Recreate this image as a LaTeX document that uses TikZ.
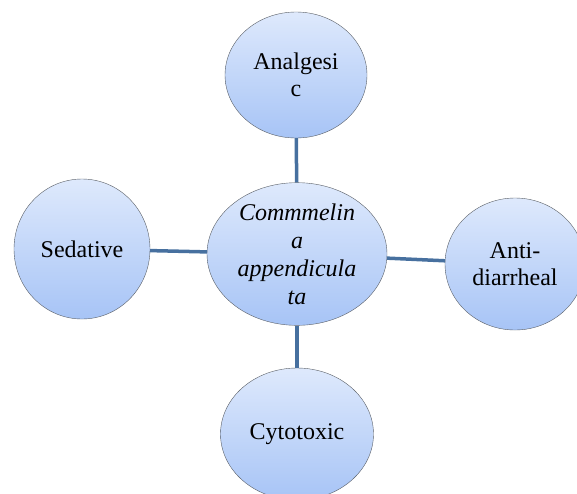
\documentclass[tikz,border=0pt]{standalone}
\usepackage{fontspec}
\setmainfont{Liberation Serif}
\usetikzlibrary{shapes.geometric}

\definecolor{bubtop}{HTML}{DEE9FC}
\definecolor{bubbot}{HTML}{A7C4F6}
\definecolor{bubline}{HTML}{5A5F66}
\definecolor{spoke}{HTML}{47709F}

\begin{document}
\begin{tikzpicture}[x=1pt, y=-1pt,
        bubble/.style={ellipse, draw=bubline, thin, top color=bubtop, bottom color=bubbot, inner sep=0pt, align=center, font=\fontsize{24}{27}\selectfont},
        link/.style={draw=spoke, line width=3.5pt}
    ]
        \useasboundingbox (0,0) rectangle (577,493);

        \node[bubble, minimum width=142pt, minimum height=126pt] (analgesic) at (296,75) {Analgesi\\c};
        \node[bubble, minimum width=180pt, minimum height=135pt, font=\fontsize{24}{28}\selectfont\itshape] (plant) at (297,254) {Commmelin\\a\\appendicula\\ta};
        \node[bubble, minimum width=136pt, minimum height=140pt] (sedative) at (82,249) {Sedative};
        \node[bubble, minimum width=140pt, minimum height=132pt] (antidiar) at (515,264) {Anti-\\diarrheal};
        \node[bubble, minimum width=153pt, minimum height=132pt] (cytotoxic) at (297,434) {Cytotoxic};

        \draw[link] (analgesic) -- (plant);
        \draw[link] (plant) -- (sedative);
        \draw[link] (plant) -- (antidiar);
        \draw[link] (plant) -- (cytotoxic);
    \end{tikzpicture}
\end{document}
